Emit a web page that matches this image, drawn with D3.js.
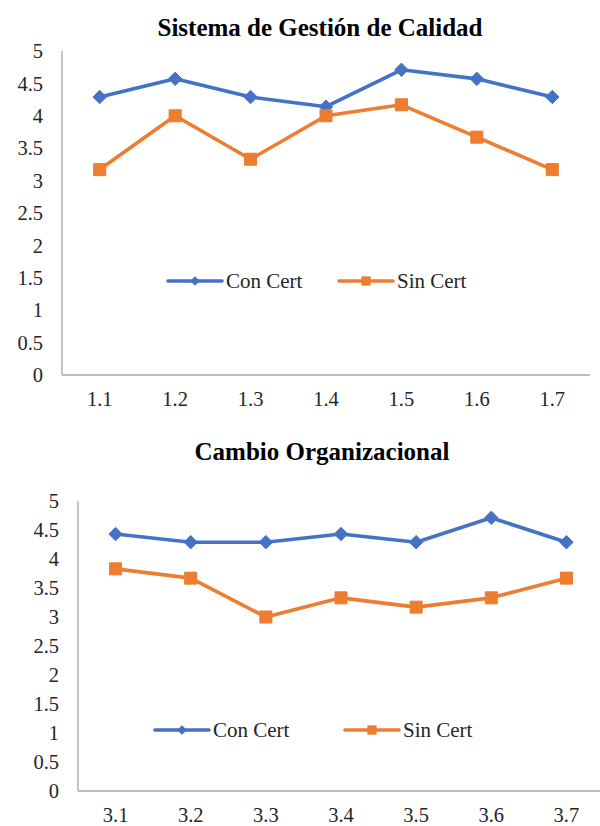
<!DOCTYPE html>
<html>
<head>
<meta charset="utf-8">
<script src="https://cdn.jsdelivr.net/npm/d3@7"></script>
<style>
    body { margin: 0; background: #fff; }
    svg { display: block; }
</style>
</head>
<body>
<div id="chart"></div>
<script>
// data
const sgcCategories = ["1.1", "1.2", "1.3", "1.4", "1.5", "1.6", "1.7"];
const sgcConCert = [4.29, 4.57, 4.29, 4.14, 4.71, 4.57, 4.29];
const sgcSinCert = [3.17, 4.0, 3.33, 4.0, 4.17, 3.67, 3.17];

const coCategories = ["3.1", "3.2", "3.3", "3.4", "3.5", "3.6", "3.7"];
const coConCert = [4.43, 4.29, 4.29, 4.43, 4.29, 4.71, 4.29];
const coSinCert = [3.83, 3.67, 3.0, 3.33, 3.17, 3.33, 3.67];

const yTicks = [0, 0.5, 1, 1.5, 2, 2.5, 3, 3.5, 4, 4.5, 5];
const seriesNames = ["Con Cert", "Sin Cert"];

const FONT = "'Liberation Serif', 'Times New Roman', serif";

class LineChart {
    constructor(_config) {
        this.config = _config;
        this.initVis();
    }

    initVis() {
        let vis = this;
        let c = vis.config;

        vis.g = c.svg.append("g");

        vis.xScale = d3.scaleBand().domain(c.categories).range([c.left, c.right]);
        vis.yScale = d3.scaleLinear().domain([0, 5]).range([c.bottom, c.top]);
        vis.colorScale = d3.scaleOrdinal().domain(seriesNames).range(["#4472c4", "#ed7d31"]);

        // title
        vis.g.append("text")
            .text(c.title)
            .attr("x", c.titleX)
            .attr("y", c.titleY)
            .attr("text-anchor", "middle")
            .style("font-family", FONT)
            .attr("font-weight", "bold")
            .attr("font-size", "25px")
            .attr("fill", "#000");

        // y tick labels
        vis.g.selectAll(".ylab")
            .data(yTicks)
            .join("text")
            .attr("class", "ylab")
            .text((d) => d)
            .attr("x", c.left - 19)
            .attr("y", (d) => vis.yScale(d))
            .attr("dy", "0.35em")
            .attr("text-anchor", "end")
            .style("font-family", FONT)
            .attr("font-size", "20.5px")
            .attr("fill", "#262626");

        // x tick labels
        vis.g.selectAll(".xlab")
            .data(c.categories)
            .join("text")
            .attr("class", "xlab")
            .text((d) => d)
            .attr("x", (d) => vis.xScale(d) + vis.xScale.bandwidth() / 2)
            .attr("y", c.bottom + 24)
            .attr("dy", "0.35em")
            .attr("text-anchor", "middle")
            .style("font-family", FONT)
            .attr("font-size", "20.5px")
            .attr("fill", "#262626");

        // axis lines
        vis.g.append("line")
            .attr("x1", c.left).attr("x2", c.left)
            .attr("y1", vis.yScale(5)).attr("y2", c.bottom)
            .attr("stroke", "#a6a6a6").attr("stroke-width", 1.3);
        vis.g.append("line")
            .attr("x1", c.left).attr("x2", c.right)
            .attr("y1", c.bottom).attr("y2", c.bottom)
            .attr("stroke", "#a6a6a6").attr("stroke-width", 1.3);

        vis.renderVis();
    }

    renderVis() {
        let vis = this;
        let c = vis.config;
        let xc = (d, i) => vis.xScale(c.categories[i]) + vis.xScale.bandwidth() / 2;

        let line = d3.line()
            .x((d, i) => xc(d, i))
            .y((d) => vis.yScale(d));

        let series = [
            { name: seriesNames[0], values: c.conCert, symbol: d3.symbolDiamond2, size: 115 },
            { name: seriesNames[1], values: c.sinCert, symbol: d3.symbolSquare2, size: 185 },
        ];

        series.forEach((s) => {
            vis.g.append("path")
                .datum(s.values)
                .attr("d", line)
                .attr("fill", "none")
                .attr("stroke", vis.colorScale(s.name))
                .attr("stroke-width", 3.6)
                .attr("stroke-linejoin", "round");
            vis.g.selectAll(null)
                .data(s.values)
                .join("path")
                .attr("d", d3.symbol(s.symbol, s.size))
                .attr("transform", (d, i) => `translate(${xc(d, i)},${vis.yScale(d)})`)
                .attr("fill", vis.colorScale(s.name))
                .attr("stroke", vis.colorScale(s.name))
                .attr("stroke-width", 1);
        });

        // legend
        series.forEach((s, i) => {
            let lx = c.legendX[i];
            let ly = c.legendY;
            vis.g.append("line")
                .attr("x1", lx).attr("x2", lx + 54)
                .attr("y1", ly).attr("y2", ly)
                .attr("stroke", vis.colorScale(s.name))
                .attr("stroke-width", 3.6)
                .attr("stroke-linecap", "round");
            vis.g.append("path")
                .attr("d", d3.symbol(s.symbol, i === 0 ? 60 : 110))
                .attr("transform", `translate(${lx + 27},${ly})`)
                .attr("fill", vis.colorScale(s.name));
            vis.g.append("text")
                .text(s.name)
                .attr("x", lx + 58)
                .attr("y", ly)
                .attr("dy", "0.35em")
                .style("font-family", FONT)
                .attr("font-size", "21px")
                .attr("fill", "#262626");
        });
    }
}

const svg = d3.select("#chart")
    .append("svg")
    .attr("width", 600)
    .attr("height", 826);

svg.append("rect").attr("width", 600).attr("height", 826).attr("fill", "#fff");

new LineChart({
    svg: svg,
    title: "Sistema de Gestión de Calidad",
    titleX: 320,
    titleY: 36,
    categories: sgcCategories,
    conCert: sgcConCert,
    sinCert: sgcSinCert,
    left: 62, right: 590, top: 51, bottom: 375,
    legendX: [168, 339], legendY: 281,
});

new LineChart({
    svg: svg,
    title: "Cambio Organizacional",
    titleX: 322,
    titleY: 460,
    categories: coCategories,
    conCert: coConCert,
    sinCert: coSinCert,
    left: 78, right: 604, top: 501, bottom: 791,
    legendX: [155, 345], legendY: 730,
});
</script>
</body>
</html>
